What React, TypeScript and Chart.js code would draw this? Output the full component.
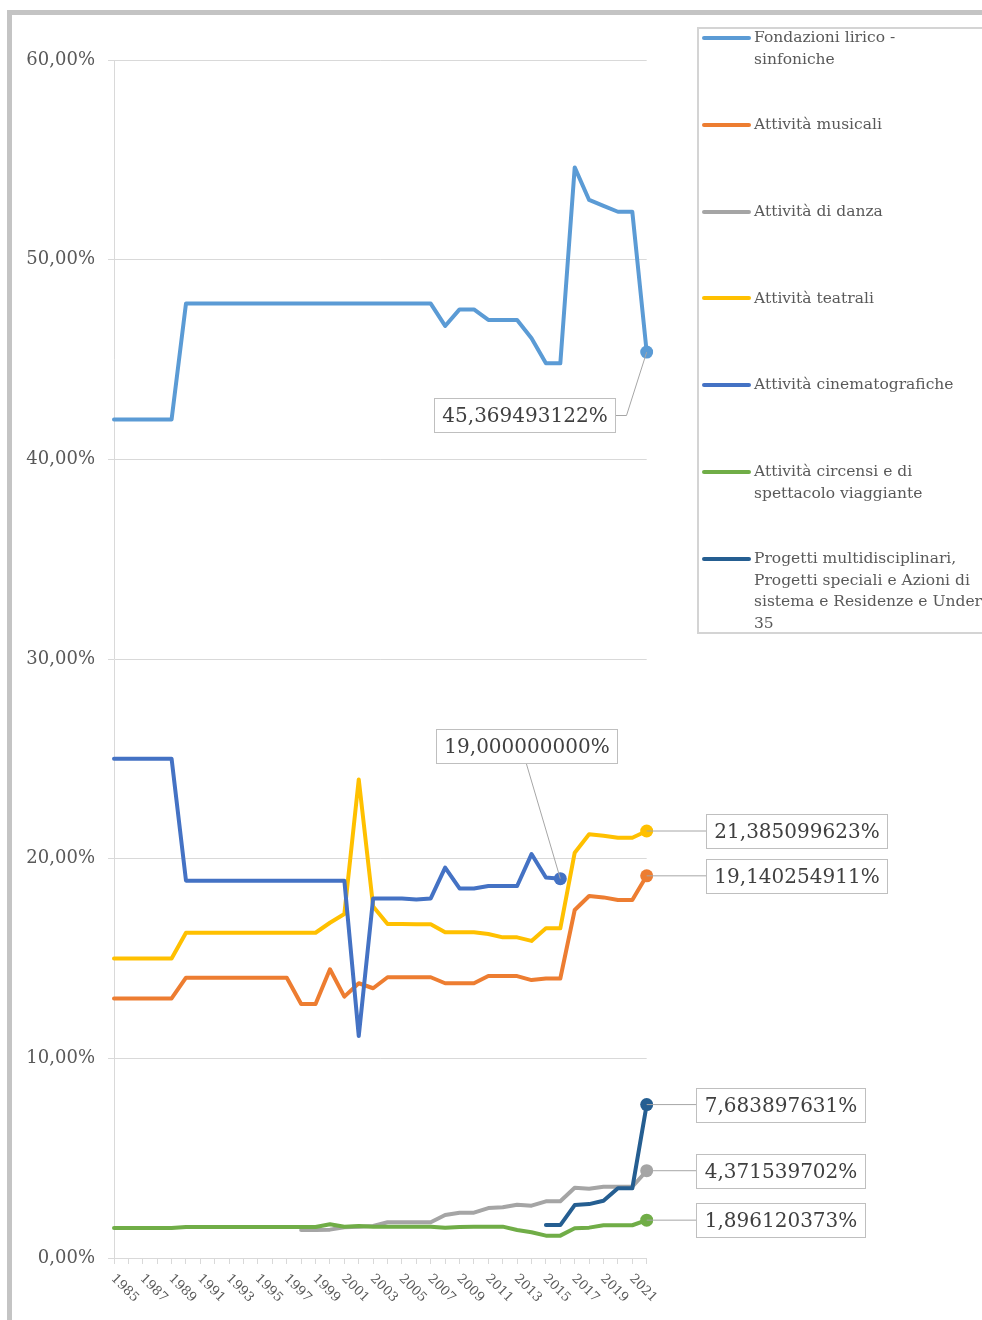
import React, { useEffect, useRef } from "react";
import { Chart, registerables } from "chart.js";

Chart.register(...registerables);

// ---------- DATA ----------
const years = [
  1985, 1986, 1987, 1988, 1989, 1990, 1991, 1992, 1993, 1994,
  1995, 1996, 1997, 1998, 1999, 2000, 2001, 2002, 2003, 2004,
  2005, 2006, 2007, 2008, 2009, 2010, 2011, 2012, 2013, 2014,
  2015, 2016, 2017, 2018, 2019, 2020, 2021, 2022,
];

const yTickValues = [0, 10, 20, 30, 40, 50, 60];

const fondazioni = [
  42, 42, 42, 42, 42, 47.8, 47.8, 47.8, 47.8, 47.8,
  47.8, 47.8, 47.8, 47.8, 47.8, 47.8, 47.8, 47.8, 47.8, 47.8,
  47.8, 47.8, 47.8, 46.68, 47.51, 47.51, 46.98, 46.98, 46.98, 46.06,
  44.81, 44.81, 54.62, 52.99, 52.69, 52.4, 52.4, 45.369493122,
];

const musicali = [
  13, 13, 13, 13, 13, 14.04, 14.04, 14.04, 14.04, 14.04,
  14.04, 14.04, 14.04, 12.72, 12.72, 14.46, 13.09, 13.76, 13.51, 14.06,
  14.06, 14.06, 14.06, 13.76, 13.76, 13.76, 14.12, 14.12, 14.12, 13.92,
  14.0, 14.0, 17.43, 18.13, 18.06, 17.93, 17.93, 19.140254911,
];

const danza = [
  null, null, null, null, null, null, null, null, null, null,
  null, null, null, 1.4, 1.4, 1.42, 1.54, 1.57, 1.6, 1.79,
  1.79, 1.79, 1.79, 2.15, 2.27, 2.27, 2.5, 2.54, 2.67, 2.62,
  2.84, 2.84, 3.52, 3.47, 3.57, 3.57, 3.57, 4.371539702,
];

const teatrali = [
  15, 15, 15, 15, 15, 16.29, 16.29, 16.29, 16.29, 16.29,
  16.29, 16.29, 16.29, 16.29, 16.29, 16.79, 17.23, 23.97, 17.6, 16.73,
  16.73, 16.71, 16.71, 16.31, 16.31, 16.31, 16.23, 16.06, 16.06, 15.88,
  16.51, 16.51, 20.3, 21.22, 21.15, 21.05, 21.05, 21.385099623,
];

const cinematografiche = [
  25, 25, 25, 25, 25, 18.9, 18.9, 18.9, 18.9, 18.9,
  18.9, 18.9, 18.9, 18.9, 18.9, 18.9, 18.9, 11.12, 18.01, 18.01,
  18.0, 17.96, 18.01, 19.55, 18.51, 18.51, 18.63, 18.63, 18.63, 20.23,
  19.06, 19.0, null, null, null, null, null, null,
];

const circensi = [
  1.5, 1.5, 1.5, 1.5, 1.5, 1.55, 1.55, 1.55, 1.55, 1.55,
  1.55, 1.55, 1.55, 1.55, 1.55, 1.69, 1.57, 1.6, 1.57, 1.57,
  1.57, 1.57, 1.57, 1.52, 1.55, 1.57, 1.57, 1.57, 1.4, 1.29,
  1.12, 1.12, 1.49, 1.52, 1.64, 1.64, 1.64, 1.896120373,
];

const progetti = [
  null, null, null, null, null, null, null, null, null, null,
  null, null, null, null, null, null, null, null, null, null,
  null, null, null, null, null, null, null, null, null, null,
  1.65, 1.65, 2.65, 2.7, 2.87, 3.49, 3.49, 7.683897631,
];

const seriesNames = [
  "Fondazioni lirico - sinfoniche",
  "Attività musicali",
  "Attività di danza",
  "Attività teatrali",
  "Attività cinematografiche",
  "Attività circensi e di spettacolo viaggiante",
  "Progetti multidisciplinari, Progetti speciali e Azioni di sistema e Residenze e Under 35",
];

const legendLines = [
  ["Fondazioni lirico -", "sinfoniche"],
  ["Attività musicali"],
  ["Attività di danza"],
  ["Attività teatrali"],
  ["Attività cinematografiche"],
  ["Attività circensi e di", "spettacolo viaggiante"],
  ["Progetti multidisciplinari,", "Progetti speciali e Azioni di", "sistema e Residenze e Under", "35"],
];

const seriesValues = [fondazioni, musicali, danza, teatrali, cinematografiche, circensi, progetti];

// ---------- STYLE ----------
const colors = ["#5b9bd5", "#ed7d31", "#a5a5a5", "#ffc000", "#4472c4", "#70ad47", "#255e91"];
const FONT = '"DejaVu Serif", serif';
const W = 982;
const H = 1320;
const PLOT_LEFT = 114;
const PLOT_TOP = 60;
const PLOT_RIGHT = 646.7;
const PLOT_BOTTOM = 1258;

// label box placement relative to point (center offsets), and leader type
const labelPlacement = [
  { dx: -122, dy: 63, leader: "elbow" },
  { dx: 150, dy: 0, leader: "left" },
  { dx: 134, dy: 0, leader: "left" },
  { dx: 150, dy: 0, leader: "left" },
  { dx: -34, dy: -133, leader: "bottom" },
  { dx: 134, dy: 0, leader: "left" },
  { dx: 134, dy: 0, leader: "left" },
];

const lastIndex = (arr: (number | null)[]) => {
  for (let i = arr.length - 1; i >= 0; i--) if (arr[i] !== null) return i;
  return -1;
};

const fmtPct = (v: number, d: number) => v.toFixed(d).replace(".", ",") + "%";

const labelsPlugin = {
  id: "valueLabels",
  afterDatasetsDraw(chart: any) {
    const ctx = chart.ctx;
    ctx.save();
    ctx.font = `20px ${FONT}`;
    seriesValues.forEach((vals, i) => {
      const idx = lastIndex(vals as any);
      const meta = chart.getDatasetMeta(i);
      const el = meta.data[idx];
      if (!el) return;
      const px = el.x;
      const py = el.y;
      const text = fmtPct(vals[idx] as number, 9);
      const tw = ctx.measureText(text).width;
      const bw = Math.round(tw + 16);
      const bh = 34;
      const p = labelPlacement[i];
      const cx = px + p.dx;
      const cy = py + p.dy;
      const bx = Math.round(cx - bw / 2) + 0.5;
      const by = Math.round(cy - bh / 2) + 0.5;
      // leader
      ctx.strokeStyle = "#a6a6a6";
      ctx.lineWidth = 1;
      ctx.beginPath();
      if (p.leader === "left") {
        ctx.moveTo(px, py);
        ctx.lineTo(bx, py);
      } else if (p.leader === "elbow") {
        ctx.moveTo(px, py);
        ctx.lineTo(bx + bw + 11, by + bh / 2);
        ctx.lineTo(bx + bw, by + bh / 2);
      } else {
        ctx.moveTo(px, py);
        ctx.lineTo(cx, by + bh);
      }
      ctx.stroke();
      // box
      ctx.fillStyle = "#ffffff";
      ctx.fillRect(bx, by, bw, bh);
      ctx.strokeStyle = "#bfbfbf";
      ctx.strokeRect(bx, by, bw, bh);
      ctx.fillStyle = "#404040";
      ctx.textAlign = "center";
      ctx.textBaseline = "middle";
      ctx.fillText(text, bx + bw / 2, by + bh / 2 + 1);
    });
    ctx.restore();
  },
  afterDraw(chart: any) {
    const ctx = chart.ctx;
    const xs = chart.scales.x;
    ctx.save();
    ctx.font = `13px ${FONT}`;
    ctx.fillStyle = "#595959";
    ctx.textAlign = "left";
    ctx.textBaseline = "middle";
    years.forEach((yr, i) => {
      if (i % 2 !== 0) return;
      const x = xs.getPixelForValue(i);
      ctx.save();
      ctx.translate(x - 1, chart.chartArea.bottom + 18.7);
      ctx.rotate(Math.PI / 4);
      ctx.fillText(String(yr), 0, 0);
      ctx.restore();
    });
    ctx.restore();
  },
};

export default function App() {
  const canvasRef = useRef<HTMLCanvasElement | null>(null);

  useEffect(() => {
    const canvas = canvasRef.current;
    if (!canvas) return;
    Chart.defaults.font.family = FONT;
    const datasets = seriesValues.map((vals, i) => {
      const li = lastIndex(vals as any);
      return {
        label: seriesNames[i],
        data: vals,
        borderColor: colors[i],
        backgroundColor: colors[i],
        borderWidth: 4,
        borderJoinStyle: "round" as const,
        borderCapStyle: "round" as const,
        tension: 0,
        spanGaps: false,
        order: 10 - i,
        pointRadius: (c: any) => (c.dataIndex === li ? 6.5 : 0),
        pointHoverRadius: 0,
        pointBorderWidth: 0,
        pointBackgroundColor: colors[i],
      };
    });

    const chart = new Chart(canvas, {
      type: "line",
      data: { labels: years.map(String), datasets },
      options: {
        responsive: false,
        animation: false,
        devicePixelRatio: 1,
        events: [],
        layout: {
          padding: { left: 0, top: PLOT_TOP, right: W - PLOT_RIGHT, bottom: 0 },
        },
        plugins: {
          legend: { display: false },
          tooltip: { enabled: false },
        },
        scales: {
          x: {
            type: "category",
            offset: false,
            grid: {
              display: true,
              drawOnChartArea: false,
              drawTicks: true,
              tickLength: 6,
              color: "#d9d9d9",
              offset: false,
            },
            border: { display: true, color: "#d9d9d9", width: 1 },
            ticks: { display: false, autoSkip: false },
            afterFit: (s: any) => {
              s.height = H - PLOT_BOTTOM;
            },
          },
          y: {
            min: 0,
            max: 60,
            afterBuildTicks: (s: any) => {
              s.ticks = yTickValues.map((v) => ({ value: v }));
            },
            ticks: {
              callback: (v: any) => fmtPct(Number(v), 2),
              font: { family: FONT, size: 18 },
              color: "#595959",
              padding: 13,
            },
            grid: { color: "#d9d9d9", tickLength: 6, drawTicks: true },
            border: { display: true, color: "#d9d9d9", width: 1 },
            afterFit: (s: any) => {
              s.width = PLOT_LEFT;
            },
          },
        },
      } as any,
      plugins: [labelsPlugin],
    });
    return () => chart.destroy();
  }, []);

  const legendTop = 38;
  const legendStep = 86.8;
  const lh = 21.5;

  return (
    <div style={{ position: "absolute", left: 0, top: 0, width: W, height: H, overflow: "hidden", background: "#fff" }}>
      <div
        style={{
          position: "absolute",
          left: 7,
          top: 10,
          width: W - 7,
          height: H - 10,
          borderTop: "5px solid #c4c4c4",
          borderLeft: "5px solid #c4c4c4",
          boxSizing: "border-box",
        }}
      />
      <canvas
        ref={canvasRef}
        width={W}
        height={H}
        style={{ position: "absolute", left: 0, top: 0, width: W, height: H }}
      />
      <div
        style={{
          position: "absolute",
          left: 697,
          top: 27,
          width: W - 697 + 4,
          height: 607,
          borderTop: "2px solid #d4d4d4",
          borderLeft: "2px solid #d4d4d4",
          borderBottom: "2px solid #d4d4d4",
          boxSizing: "border-box",
        }}
      />
      {legendLines.map((lines, i) => {
        const cy = legendTop + i * legendStep;
        return (
          <React.Fragment key={i}>
            <div
              style={{
                position: "absolute",
                left: 702,
                top: cy - 2,
                width: 49,
                height: 4,
                borderRadius: 2,
                background: colors[i],
              }}
            />
            <div
              style={{
                position: "absolute",
                left: 754,
                top: cy - lh / 2,
                fontFamily: FONT,
                fontSize: 15.5,
                lineHeight: `${lh}px`,
                color: "#595959",
                whiteSpace: "nowrap",
              }}
            >
              {lines.map((t, j) => (
                <div key={j}>{t}</div>
              ))}
            </div>
          </React.Fragment>
        );
      })}
    </div>
  );
}
